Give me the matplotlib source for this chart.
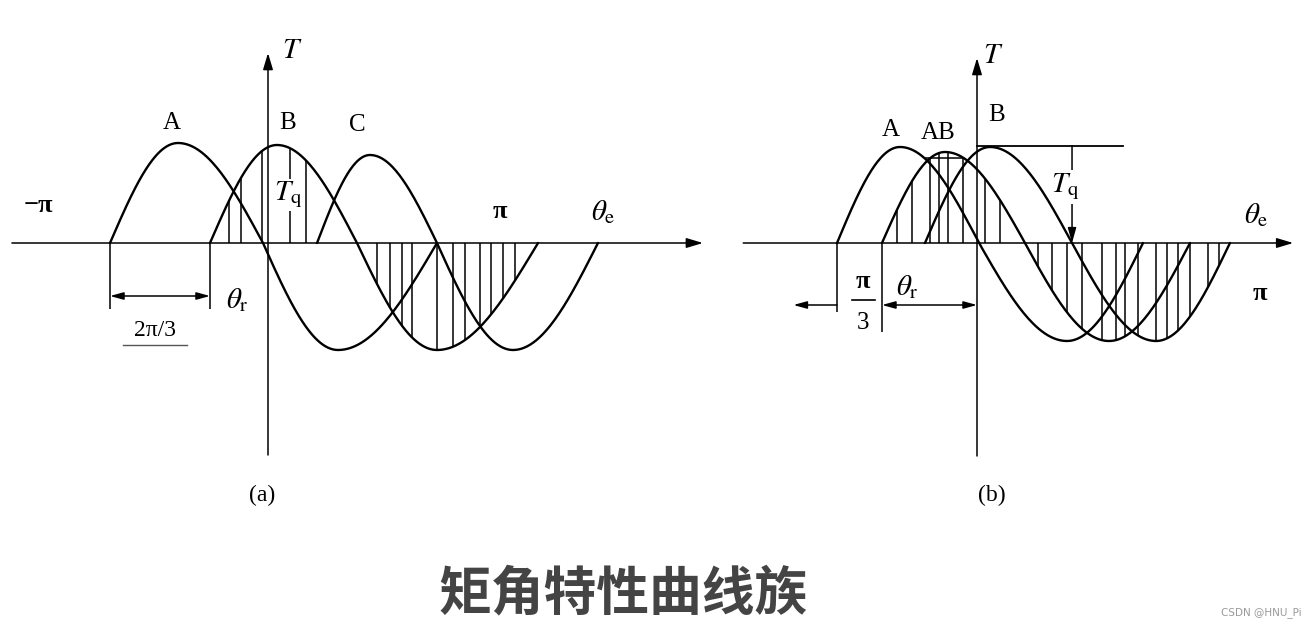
import numpy as np
import matplotlib
matplotlib.use("Agg")
import matplotlib.pyplot as plt

plt.rcParams['mathtext.fontset'] = 'stix'
SERIF = ['Liberation Serif', 'DejaVu Serif']

# ---------------- data (electrical degrees, normalised torque) ----------------
# panel (a): single-phase excitation A, B, C
a_names    = ['A', 'B', 'C']
a_start    = [-174.0, -63.9, 54.0]
a_peak_x   = [-99.1, 9.9, 112.3]
a_zero_x   = [-5.5, 98.0, 186.1]
a_trough_x = [77.1, 186.1, 269.8]
a_end      = [186.1, 297.4, 363.4]
a_peak     = [1.00, 0.98, 0.88]
a_trough   = [-1.07, -1.07, -1.07]
a_hatch_up = [-43, -30, -7, 24, 42]                       # bounded by B
a_hatch_dn = [120, 134, 148, 159, 186, 204, 217, 233, 246, 259, 272]  # bounded by B

# panel (b): A, AB, B excitation
b_names    = ['A', 'AB', 'B']
b_start    = [-164.7, -111.8, -61.2]
b_peak_x   = [-90.6, -37.6, 15.3]
b_zero_x   = [2.4, 56.5, 111.8]
b_trough_x = [105.9, 155.3, 210.6]
b_end      = [195.3, 250.6, 297.6]
b_peak     = [0.96, 0.91, 0.96]
b_trough   = [-0.98, -0.98, -0.98]
b_hatch_up = [-94, -76, -55, -45, -34, -17, 9, 27]        # bounded by AB
b_hatch_dn = [71.8, 88.2, 105.9, 123.5, 147.1, 163.5, 174.1, 189.4,
              210.6, 223.5, 236.5, 250.6, 271.8, 284.7]    # bounded by min(AB, B)
b_tq_level = 0.97          # holding torque Tq (peak of B)
b_cap_chord = [-61, -18, 0.85]

title_text = '矩角特性曲线族'
watermark = 'CSDN @HNU_Pi'

# ---------------- figure ----------------
W, H = 1307, 627
fig = plt.figure(figsize=(W / 100, H / 100), dpi=100)
fig.patch.set_facecolor('white')


def panel_axes(px0, px1, ox, oy, px_per_deg, px_per_unit=100.0):
    ax = fig.add_axes([px0 / W, 0, (px1 - px0) / W, 1])
    ax.set_xlim((px0 - ox) / px_per_deg, (px1 - ox) / px_per_deg)
    ax.set_ylim((oy - H) / px_per_unit, oy / px_per_unit)
    ax.axis('off')
    return ax


def wave(xk, yk, n=60):
    X, Y = [], []
    for i in range(len(xk) - 1):
        t = np.linspace(0, 1, n)
        x = xk[i] + (xk[i + 1] - xk[i]) * t
        if yk[i] == 0:
            y = yk[i + 1] * np.sin(np.pi / 2 * t)
        else:
            y = yk[i] * np.cos(np.pi / 2 * t)
        X.append(x)
        Y.append(y)
    return np.concatenate(X), np.concatenate(Y)


def curves(ax, starts, px, zx, tx, ends, pk, tr):
    out = []
    for s, p, z, t, e, a, b in zip(starts, px, zx, tx, ends, pk, tr):
        x, y = wave([s, p, z, t, e], [0, a, 0, b, 0])
        ax.plot(x, y, color='black', lw=1.7, solid_capstyle='round', zorder=6)
        out.append((x, y))
    return out


def val(c, xq):
    x, y = c
    return np.where((np.asarray(xq) >= x[0]) & (np.asarray(xq) <= x[-1]),
                    np.interp(xq, x, y), 0.0)


def arrow(ax, p0, p1, style='-|>', lw=1.1, hl=0.9, hw=0.28):
    ax.annotate('', xy=p1, xytext=p0,
                arrowprops=dict(arrowstyle=f'{style},head_length={hl},head_width={hw}',
                                lw=lw, color='black', shrinkA=0, shrinkB=0),
                zorder=4)


# ======================= panel (a) =======================
axa = panel_axes(0, 725, 268, 243, 0.908)
ca = curves(axa, a_start, a_peak_x, a_zero_x, a_trough_x, a_end, a_peak, a_trough)
B = ca[1]
axa.vlines(a_hatch_up, 0, val(B, a_hatch_up), color='black', lw=1.1, zorder=2)
axa.vlines(a_hatch_dn, 0, val(B, a_hatch_dn), color='black', lw=1.1, zorder=2)

# axes
arrow(axa, (-282, 0), (479, 0), hl=1.0, hw=0.3)
arrow(axa, (0, -2.12), (0, 1.90), hl=1.0, hw=0.3)

# dimension 2π/3
axa.vlines([a_start[0], a_start[1]], -0.66, 0, color='black', lw=1.1)
arrow(axa, (a_start[0], -0.53), (a_start[1], -0.53), style='<|-|>', hl=0.8, hw=0.22)
axa.text(-124, -0.87, '2π/3', family=SERIF, fontsize=17, ha='center', va='center')
axa.plot([-160, -89], [-1.02, -1.02], color='#555555', lw=1.0)
axa.text(-34, -0.57, r'$\theta_\mathrm{r}$', fontsize=21, ha='center', va='center')

# labels
for name, xx, yy in zip(a_names, [-106, 22, 98], [1.20, 1.20, 1.18]):
    axa.text(xx, yy, name, family=SERIF, fontsize=18, ha='center', va='center')
axa.text(-253, 0.38, '−π', family=SERIF, fontsize=19, fontweight='bold', ha='center', va='center')
axa.text(255, 0.31, 'π', family=SERIF, fontsize=19, fontweight='bold', ha='center', va='center')
axa.text(369, 0.31, r'$\theta_\mathrm{e}$', fontsize=21, ha='center', va='center')
axa.text(27, 1.93, r'$T$', fontsize=21, ha='center', va='center')
axa.text(22, 0.48, r'$T_\mathrm{q}$', fontsize=21, ha='center', va='center', zorder=5,
         bbox=dict(facecolor='white', edgecolor='none', pad=0.5))
axa.text(-7, -2.52, '(a)', family=SERIF, fontsize=17, ha='center', va='center')

# ======================= panel (b) =======================
axb = panel_axes(730, W, 977, 243, 0.85)
cb = curves(axb, b_start, b_peak_x, b_zero_x, b_trough_x, b_end, b_peak, b_trough)
AB, Bb = cb[1], cb[2]
axb.vlines(b_hatch_up, 0, val(AB, b_hatch_up), color='black', lw=1.1, zorder=2)
low = np.minimum(val(AB, b_hatch_dn), val(Bb, b_hatch_dn))
axb.vlines(b_hatch_dn, 0, low, color='black', lw=1.1, zorder=2)
axb.plot(b_cap_chord[:2], [b_cap_chord[2]] * 2, color='black', lw=1.1, zorder=2)

# axes
arrow(axb, (-275, 0), (372, 0), hl=1.0, hw=0.3)
arrow(axb, (0, -2.13), (0, 1.85), hl=1.0, hw=0.3)

# Tq
axb.plot([0, 171.8], [b_tq_level, b_tq_level], color='black', lw=1.3)
arrow(axb, (b_zero_x[2], b_tq_level), (b_zero_x[2], 0), hl=0.9, hw=0.25)
axb.text(103.5, 0.56, r'$T_\mathrm{q}$', fontsize=21, ha='center', va='center', zorder=5,
         bbox=dict(facecolor='white', edgecolor='none', pad=1.5))

# dimensions
axb.vlines([b_start[0]], -0.69, 0, color='black', lw=1.1)
axb.vlines([b_start[1]], -0.89, 0, color='black', lw=1.1)
arrow(axb, (b_start[0], -0.62), (-216, -0.62), hl=0.8, hw=0.22)
arrow(axb, (b_start[1], -0.62), (0, -0.62), style='<|-|>', hl=0.8, hw=0.22)
axb.text(-134, -0.39, 'π', family=SERIF, fontsize=19, fontweight='bold', ha='center', va='center')
axb.plot([-147, -120], [-0.57, -0.57], color='black', lw=1.2)
axb.text(-134, -0.80, '3', family=SERIF, fontsize=18, ha='center', va='center')
axb.text(-82, -0.44, r'$\theta_\mathrm{r}$', fontsize=21, ha='center', va='center')

for name, xx, yy in zip(b_names, [-102, -46, 23.5], [1.13, 1.10, 1.28]):
    axb.text(xx, yy, name, family=SERIF, fontsize=18, ha='center', va='center')
axb.text(19, 1.88, r'$T$', fontsize=21, ha='center', va='center')
axb.text(329, 0.28, r'$\theta_\mathrm{e}$', fontsize=21, ha='center', va='center')
axb.text(333, -0.50, 'π', family=SERIF, fontsize=19, fontweight='bold', ha='center', va='center')
axb.text(17.6, -2.52, '(b)', family=SERIF, fontsize=17, ha='center', va='center')

# ---------------- title & watermark ----------------
fig.text(623.5 / W, 1 - 594 / H, title_text, family=['Noto Sans CJK SC', 'DejaVu Sans'],
         fontsize=38, fontweight='bold', color='#444444', ha='center', va='center')
fig.text(1302 / W, 1 - 613 / H, watermark, family=['DejaVu Sans'],
         fontsize=7.5, color='#9a9a9a', ha='right', va='center')

fig.savefig('out.png', dpi=100, facecolor='white')
